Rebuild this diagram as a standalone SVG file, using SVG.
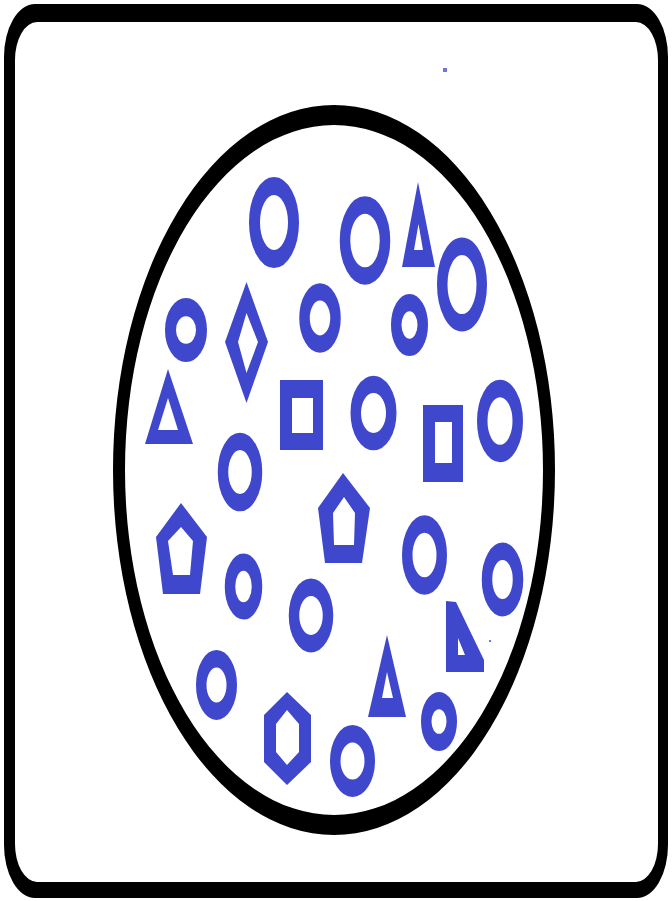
<svg xmlns="http://www.w3.org/2000/svg" width="672" height="901" viewBox="0 0 672 901">
<style>
.r{fill:none;stroke:#3F48CC;stroke-width:10.5}
.p{fill:#3F48CC;fill-rule:evenodd}
.k{fill:#000;fill-rule:evenodd}
</style>
<rect width="672" height="901" fill="#fff"/>
<g id="frame">
<path class="k" d="M35,4 H637 A31,53 0 0 1 668,57 V845 A31,53 0 0 1 637,898 H35 A31,53 0 0 1 4,845 V57 A31,53 0 0 1 35,4 Z M37,22 H636 A22,38 0 0 1 658,60 V844 A22,38 0 0 1 636,882 H37 A22,38 0 0 1 15,844 V60 A22,38 0 0 1 37,22 Z"/>
</g>
<g id="set">
<path class="k" d="M113,470 A221,365 0 1 0 555,470 A221,365 0 1 0 113,470 Z M125,470 A209,345 0 1 0 543,470 A209,345 0 1 0 125,470 Z"/>
</g>
<g id="shapes">
<g id="ell-a" transform="translate(274 222.5) scale(1 1.65)"><ellipse class="r" rx="19.5" ry="22.1" style="stroke-width:11"/></g>
<g id="ell-g" transform="translate(365 240.5) scale(1 1.65)"><ellipse class="r" rx="20" ry="21.5"/></g>
<g id="tri-h"><path class="p" d="M418,182 L435,267 L402,267 Z M418.5,224 L423,250 L414,250 Z"/></g>
<g id="ell-i" transform="translate(462 284.5) scale(1 1.65)"><ellipse class="r" rx="19.75" ry="23.2"/></g>
<g id="ell-b" transform="translate(186 330) scale(1 1.65)"><ellipse class="r" rx="15.5" ry="13.9" style="stroke-width:11"/></g>
<g id="dia-c"><path class="p" d="M246.5,282 L268,342 L246.5,403 L225,342 Z M246.5,313 L258,342 L246.5,373 L238,342 Z"/></g>
<g id="ell-d" transform="translate(320 318) scale(1 1.65)"><ellipse class="r" rx="15.5" ry="15.8"/></g>
<g id="ell-j" transform="translate(409.5 325) scale(1 1.65)"><ellipse class="r" rx="13.25" ry="13.6"/></g>
<g id="tri-e"><path class="p" d="M168,369 L193,444 L145,444 Z M168,398 L178,430 L158,430 Z"/></g>
<g id="sq-f"><path class="p" d="M280,380 H323 V450 H280 Z M292,398 V433 H313 V398 Z"/></g>
<g id="ell-k" transform="translate(373.5 413) scale(1 1.65)"><ellipse class="r" rx="17.75" ry="17.3"/></g>
<g id="sq-l"><path class="p" d="M423,405 H463 V482 H423 Z M435,422 V463 H452 V422 Z"/></g>
<g id="ell-m" transform="translate(500 421) scale(1 1.65)"><ellipse class="r" rx="17.75" ry="19.7"/></g>
<g id="ell-n" transform="translate(240 472) scale(1 1.65)"><ellipse class="r" rx="17" ry="18.6"/></g>
<g id="pent-t"><path class="p" d="M343,473 L370,508 L362,563 L325,563 L318,508 Z M344,497 L333,513 L334,545 L354,545 L355,513 Z"/></g>
<g id="pent-o"><path class="p" d="M181,503 L207,537 L200,594 L163,594 L156,537 Z M181,527 L168,541 L173,575 L190,575 L193,541 Z"/></g>
<g id="ell-u" transform="translate(424.5 555) scale(1 1.65)"><ellipse class="r" rx="17.25" ry="18.8"/></g>
<g id="ell-v" transform="translate(502.5 579.5) scale(1 1.65)"><ellipse class="r" rx="15.5" ry="17.1"/></g>
<g id="ell-p" transform="translate(243.5 586.5) scale(1 1.65)"><ellipse class="r" rx="13.5" ry="14.8"/></g>
<g id="ell-q" transform="translate(311 615.5) scale(1 1.65)"><ellipse class="r" rx="17" ry="17.1"/></g>
<g id="tri-w"><path class="p" d="M446,601 L456,602 L484,660 L484,672 L446,672 Z M458,638 L465,655 L458,655 Z"/></g>
<g id="tri-x"><path class="p" d="M387,635 L406,717 L368,717 Z M387,672 L393,698 L382,698 Z"/></g>
<g id="ell-r" transform="translate(216.5 685) scale(1 1.65)"><ellipse class="r" rx="15.25" ry="15.9"/></g>
<g id="hex-s"><path class="p" d="M287,692 L311,715 L311,762 L287,785 L264,762 L264,715 Z M287,710 L276,724 L276,752 L287,765 L299,752 L299,724 Z"/></g>
<g id="ell-y" transform="translate(439 721.5) scale(1 1.65)"><ellipse class="r" rx="12.75" ry="12.7"/></g>
<g id="ell-z" transform="translate(352.5 761) scale(1 1.65)"><ellipse class="r" rx="17.25" ry="16.5"/></g>
<rect id="dot1" x="443" y="68" width="4" height="4" fill="#6f76d9"/>
<rect id="dot2" x="489" y="640" width="2" height="2" fill="#6f76d9"/>
</g>
</svg>
